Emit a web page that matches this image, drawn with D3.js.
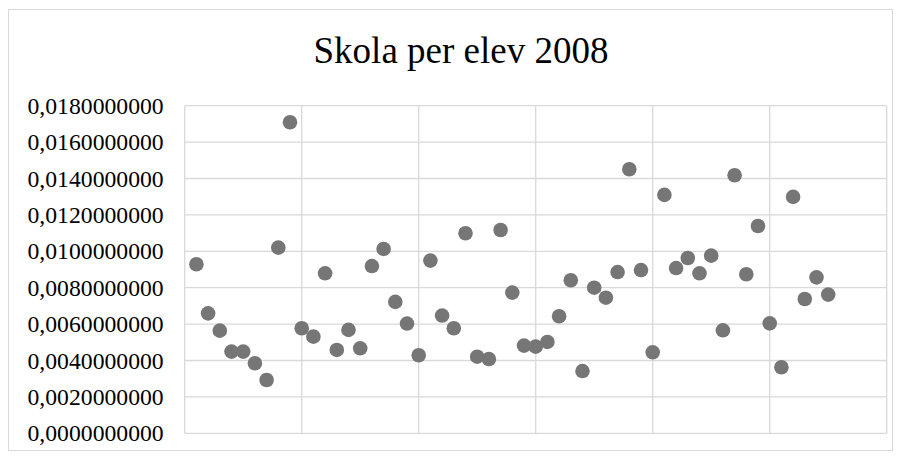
<!DOCTYPE html>
<html>
<head>
<meta charset="utf-8">
<script src="https://cdn.jsdelivr.net/npm/d3@7"></script>
<style>
  html, body { margin: 0; padding: 0; background: #fff; }
  svg { display: block; }
  .serif { font-family: "Liberation Serif", "Times New Roman", serif; }
</style>
</head>
<body>
<svg id="chart" width="901" height="458"></svg>
<script>
const title = "Skola per elev 2008";
const xIndex = d3.range(1, 56);
const values = [
  0.00929, 0.00659, 0.00564, 0.00449, 0.00449, 0.00385, 0.00293, 0.01020, 0.01709, 0.00577,
  0.00531, 0.00879, 0.00458, 0.00568, 0.00467, 0.00919, 0.01013, 0.00722, 0.00603, 0.00429,
  0.00949, 0.00647, 0.00577, 0.01099, 0.00421, 0.00408, 0.01117, 0.00773, 0.00482, 0.00476,
  0.00502, 0.00643, 0.00841, 0.00342, 0.00800, 0.00745, 0.00886, 0.01451, 0.00897, 0.00445,
  0.01310, 0.00908, 0.00963, 0.00879, 0.00976, 0.00566, 0.01418, 0.00874, 0.01139, 0.00604,
  0.00363, 0.01299, 0.00738, 0.00857, 0.00762
];
const yTicks = [0, 0.002, 0.004, 0.006, 0.008, 0.010, 0.012, 0.014, 0.016, 0.018];
const xTicks = [0, 10, 20, 30, 40, 50, 60];

const svg = d3.select("#chart");
const plot = { left: 184.7, right: 886.7, top: 105.7, bottom: 433.3 };

// outer chart border
svg.append("rect")
  .attr("x", 8.5).attr("y", 9.5).attr("width", 884).attr("height", 441)
  .attr("fill", "#fff").attr("stroke", "#d9d9d9").attr("stroke-width", 1);

const x = d3.scaleLinear().domain([0, 60]).range([plot.left, plot.right]);
const y = d3.scaleLinear().domain([0, 0.018]).range([plot.bottom, plot.top]);

// gridlines
const grid = svg.append("g");
grid.selectAll("line.h").data(yTicks).enter().append("line")
  .attr("x1", plot.left).attr("x2", plot.right)
  .attr("y1", d => y(d)).attr("y2", d => y(d))
  .attr("stroke", "#d9d9d9").attr("stroke-width", 1.3);
grid.selectAll("line.v").data(xTicks).enter().append("line")
  .attr("y1", plot.top).attr("y2", plot.bottom)
  .attr("x1", d => x(d)).attr("x2", d => x(d))
  .attr("stroke", "#d9d9d9").attr("stroke-width", 1.3);

// y axis labels
const fmt = d => d.toFixed(10).replace(".", ",");
const yAxis = d3.axisLeft(y).tickValues(yTicks).tickFormat(fmt).tickSize(0).tickPadding(21);
const ya = svg.append("g").attr("transform", `translate(${plot.left},0)`).call(yAxis);
ya.attr("font-family", null).attr("font-size", null);
ya.select(".domain").remove();
ya.selectAll("text")
  .attr("class", "serif")
  .style("font-family", '"Liberation Serif", "Times New Roman", serif')
  .style("font-size", "23.7px").attr("fill", "#000");

// points
svg.append("g").selectAll("circle").data(values).enter().append("circle")
  .attr("cx", (d, i) => x(xIndex[i]))
  .attr("cy", d => y(d))
  .attr("r", 7.3)
  .attr("fill", "#767676");

// title
svg.append("text")
  .attr("x", 461).attr("y", 63)
  .attr("text-anchor", "middle")
  .style("font-family", '"Liberation Serif", "Times New Roman", serif')
  .style("font-size", "37px").attr("fill", "#000")
  .text(title);
</script>
</body>
</html>
